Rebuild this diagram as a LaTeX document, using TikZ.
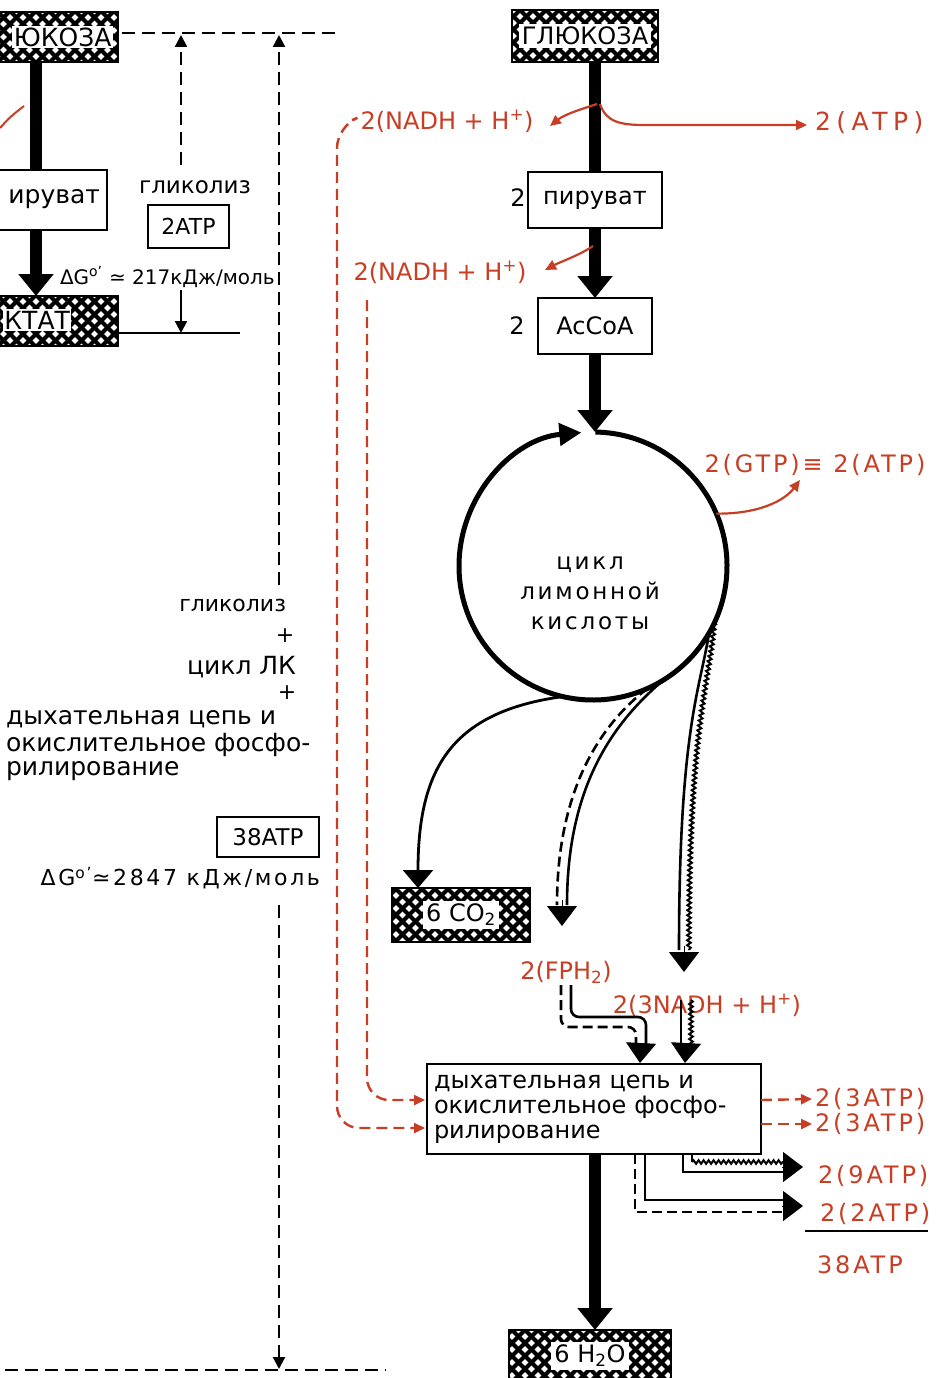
\documentclass[tikz,border=0pt]{standalone}
\usepackage{fontspec}
\setmainfont{DejaVu Sans}
\newfontfamily\spc{DejaVu Sans}[LetterSpace=12]
\newfontfamily\spcw{DejaVu Sans}[LetterSpace=22]
\usetikzlibrary{arrows.meta,decorations.pathmorphing,calc}
\definecolor{redc}{RGB}{200,62,36}
\newcommand{\fsz}[1]{\fontsize{#1pt}{#1pt}\selectfont}
\begin{document}
\begin{tikzpicture}[x=1pt,y=-1pt,
  every node/.style={inner sep=0pt,outer sep=0pt},
  box/.style={draw,line width=2.4pt,fill=white,font=\fsz{24}},
  meshbox/.style={draw,line width=2.4pt,fill=white,font=\fsz{24},
    path picture={
      \foreach \k in {-14,...,14}{
        \draw[line width=4.2pt] ([xshift=\k*13pt-80pt,yshift=80pt]path picture bounding box.center) -- ++(160pt,-160pt);
        \draw[line width=4.2pt] ([xshift=\k*13pt-80pt,yshift=-80pt]path picture bounding box.center) -- ++(160pt,160pt);
      }}},
  wbox/.style={fill=white,inner sep=1.5pt,font=\fsz{25}},
  fatline/.style={line width=12pt},
  fatarrow/.style={line width=12pt,-{Triangle[length=22pt,width=34pt]}},
  dimdash/.style={line width=2.2pt,dash pattern=on 13pt off 7pt},
  dimtip/.style={-{Triangle[length=12pt,width=12pt]}},
  thin/.style={line width=2.6pt},
  dashd/.style={line width=2.6pt,dash pattern=on 10pt off 5pt},
  wavy/.style={line width=2pt,decorate,decoration={snake,amplitude=1.8pt,segment length=5pt}},
  dtip/.style={line width=1pt,-{Triangle[length=20pt,width=30pt]}},
  redlab/.style={text=redc,font=\fsz{24}},
  redsp/.style={text=redc,font=\spc\fsz{24}},
  reddash/.style={draw=redc,line width=2.4pt,dash pattern=on 11pt off 6pt},
  redarr/.style={draw=redc,line width=2.2pt,-{Triangle[length=11pt,width=10pt]}},
  txt/.style={font=\fsz{22}},
  txtb/.style={font=\fsz{25}}
]
\useasboundingbox (0,0) rectangle (940,1378);
\clip (0,0) rectangle (940,1378);

% ---------------- left column (cut off) ----------------
\node[meshbox,minimum width=164pt,minimum height=50pt] (gluL) at (36,37) {};
\node[wbox,anchor=east] (gluLt) at (113,37) {ЮКОЗА};
\node[box,minimum width=142pt,minimum height=60pt] (pyrL) at (36,200) {};
\node[font=\fsz{25},anchor=east] (pyrLt) at (100,199) {ируват};
\node[meshbox,minimum width=164pt,minimum height=50pt] (lacL) at (36,321) {};
\node[wbox,anchor=west] (lacLt) at (3,320) {КТАТ};
\draw[fatline] (gluL) -- (pyrL);
\draw[fatarrow] (pyrL) -- (lacL);
\draw[redc,line width=2pt] (0,128) .. controls (10,117) .. (24,106);

% ---------------- dimension lines ----------------
\coordinate (d0) at (122,33); \coordinate (d1) at (335,33);
\draw[dimdash] (d0) -- (d1);
\draw[dimdash,dimtip] (181,165) -- (181,35);
\node[font=\fsz{23}] (glyk) at (195,187) {гликолиз};
\node[box,font=\fsz{22},minimum width=81pt,minimum height=43pt,line width=2pt] (atpA) at (188.5,226.5) {2ATP};
\node[font=\fsz{20},anchor=west] (dgA) at (60,277) {ΔG\textsuperscript{o’} ≃ 217кДж/моль};
\coordinate (b0) at (118,333); \coordinate (b1) at (240,333);
\draw[line width=2.2pt] (b0) -- (b1);
\draw[line width=2.2pt,dimtip] (181,290) -- (181,333);

\draw[dimdash,dimtip] (279,585) -- (279,35);
\draw[dimdash,dimtip] (279,905) -- (279,1369);
\coordinate (e0) at (5,1370); \coordinate (e1) at (386,1370);
\draw[dimdash] (e0) -- (e1);

\node[txt,anchor=east] (tA) at (286,605) {гликолиз};
\node[txt] (pA) at (285,636) {+};
\node[txtb,anchor=east] (tB) at (296,667) {цикл ЛК};
\node[txt] (pB) at (287,693) {+};
\node[txtb,anchor=west] (tC) at (6,719) {дыхательная цепь и};
\node[txtb,anchor=west] (tD) at (6,745) {окислительное фосфо-};
\node[txtb,anchor=west] (tE) at (6,771) {рилирование};
\node[box,font=\fsz{23},minimum width=102pt,minimum height=40pt,line width=2pt] (atpB) at (268,837) {38ATP};
\node[font=\spc\fsz{22},anchor=east] (dgB) at (320,878) {ΔG\textsuperscript{o’}≃2847 кДж/моль};

% ---------------- right column ----------------
\node[meshbox,minimum width=146pt,minimum height=52pt] (glu) at (585,36) {\colorbox{white}{ГЛЮКОЗА}};
\node[box,minimum width=134pt,minimum height=56pt] (pyr) at (595,200) {пируват};
\node[font=\fsz{24}] (pyr2) at (518,198) {2};
\node[box,minimum width=114pt,minimum height=56pt] (acoa) at (595,326) {AcCoA};
\node[font=\fsz{24}] (acoa2) at (517,326) {2};

\coordinate (C) at (593,566);
\node[circle,minimum size=268pt] (tca) at (C) {};
\node[align=center,font=\spc\fontsize{23pt}{30pt}\selectfont] (tcat) at (590,593) {цикл\\лимонной\\кислоты};

\node[meshbox,minimum width=138pt,minimum height=54pt] (co2) at (461,915) {\colorbox{white}{6 CO\textsubscript{2}}};
\node[box,minimum width=334pt,minimum height=90pt,align=left,text width=320pt,font=\fontsize{24pt}{25pt}\selectfont] (resp) at (594,1109) {дыхательная цепь и\\окислительное фосфо-\\рилирование};
\node[meshbox,minimum width=162pt,minimum height=52pt,anchor=north] (h2o) at (590,1330) {\colorbox{white}{6 H\textsubscript{2}O}};

\draw[fatline] (glu.south -| pyr) -- (pyr);
\draw[fatarrow] (pyr) -- (acoa);
\draw[fatarrow] (acoa) -- (acoa.south |- tca.north);
\draw[fatarrow] (resp.south -| acoa) -- (h2o.north -| acoa);

% circle with arrow
\draw[line width=5pt,-{Triangle[length=22pt,width=22pt]}] ($(C)+(271:134)$) arc[start angle=271,end angle=625,radius=134];

% outgoing curves
\draw[line width=2.8pt,-{Triangle[length=18pt,width=30pt]}] ($(C)+(103:134)$) .. controls (450,712) and (418,770) .. ([xshift=26pt]co2.north west);
\draw[dashd] ($(C)+(66:134)$) .. controls (600,725) and (557,790) .. (557,905);
\draw[thin] ($(C)+(58:134)$) .. controls (610,725) and (567,790) .. (567,905);
\draw[dtip] (562,900) -- (562,926);
\draw[thin] ($(C)+(30:134)$) .. controls (700,690) and (679,730) .. (679,950);
\draw[wavy] ($(C)+(25:134)$) .. controls (708,690) and (689,730) .. (689,950);
\draw[dtip] (684,946) -- (684,972);

% red labels
\node[redlab] (nadh1) at (447,121) {2(NADH + H\textsuperscript{+})};
\node[text=redc,font=\spcw\fsz{25},anchor=west] (atp1) at (815,123) {2(ATP)};
\node[redlab] (nadh2) at (440,272) {2(NADH + H\textsuperscript{+})};
\node[redsp] (gtp) at (815,465) {2(GTP)≡ 2(ATP)};
\node[redlab] (fph) at (566,972) {2(FPH\textsubscript{2})};
\node[redlab] (nadh3) at (707,1005) {2(3NADH + H\textsuperscript{+})};
\node[redsp,anchor=west] (atp3a) at (815,1099) {2(3ATP)};
\node[redsp,anchor=west] (atp3b) at (815,1124) {2(3ATP)};
\node[redsp,anchor=west] (atp9) at (818,1176) {2(9ATP)};
\node[redsp,anchor=west] (atp2) at (820,1214) {2(2ATP)};
\node[redsp,anchor=west] (atp38) at (817,1265) {38ATP};
\coordinate (u0) at (805,1231); \coordinate (u1) at (928,1231);
\draw[line width=2.5pt] (u0) -- (u1);

% red arrows at top
\draw[redarr] (597,104) .. controls (585,108) and (565,114) .. (550,126);
\draw[redarr] (600,104) .. controls (606,122) and (620,125) .. (645,125) -- ($(atp1.west)+(-8,2)$);
\draw[redarr] (593,246) .. controls (580,255) and (560,262) .. (545,270);
\draw[redarr] ($(C)+(-23:134)$) .. controls (760,514) and (785,500) .. (800,480);

% red dashed into respiratory box
\draw[reddash,-{Triangle[length=11pt,width=10pt]},rounded corners=22pt] (352,120) -- (337,126) -- (337,1128) -- ($(resp.west)+(-2,19)$);
\draw[reddash,-{Triangle[length=11pt,width=10pt]},rounded corners=22pt] (367,300) -- (367,1100) -- ($(resp.west)+(-2,-9)$);
\draw[reddash,-{Triangle[length=11pt,width=10pt]}] ($(resp.east)+(0,-9)$) -- ($(atp3a.west)+(-3,0)$);
\draw[reddash,-{Triangle[length=11pt,width=10pt]}] ($(resp.east)+(0,15)$) -- ($(atp3b.west)+(-3,0)$);

% double lines into the box
\draw[dashd,rounded corners=8pt] (561,985) -- (561,1027) -- (636,1027) -- (636,1048);
\draw[thin,rounded corners=8pt] (571,985) -- (571,1017) -- (646,1017) -- (646,1048);
\draw[dtip] (641,1044) -- ($(resp.north west)+(213,-1)$);
\draw[thin] (681,1000) -- (681,1048);
\draw[wavy] (691,1000) -- (691,1048);
\draw[dtip] (686,1044) -- ($(resp.north west)+(258,-1)$);

% double lines out of the box
\draw[thin] (683,1154) -- (683,1172) -- (785,1172);
\draw[thin] (692,1154) -- (692,1162);
\draw[wavy] (692,1162) -- (785,1162);
\draw[dtip] (782,1167) -- (803,1167);
\draw[thin] (645,1154) -- (645,1200) -- (785,1200);
\draw[dashd] (635,1154) -- (635,1212) -- (785,1212);
\draw[dtip] (782,1206) -- (803,1206);
\end{tikzpicture}
\end{document}
